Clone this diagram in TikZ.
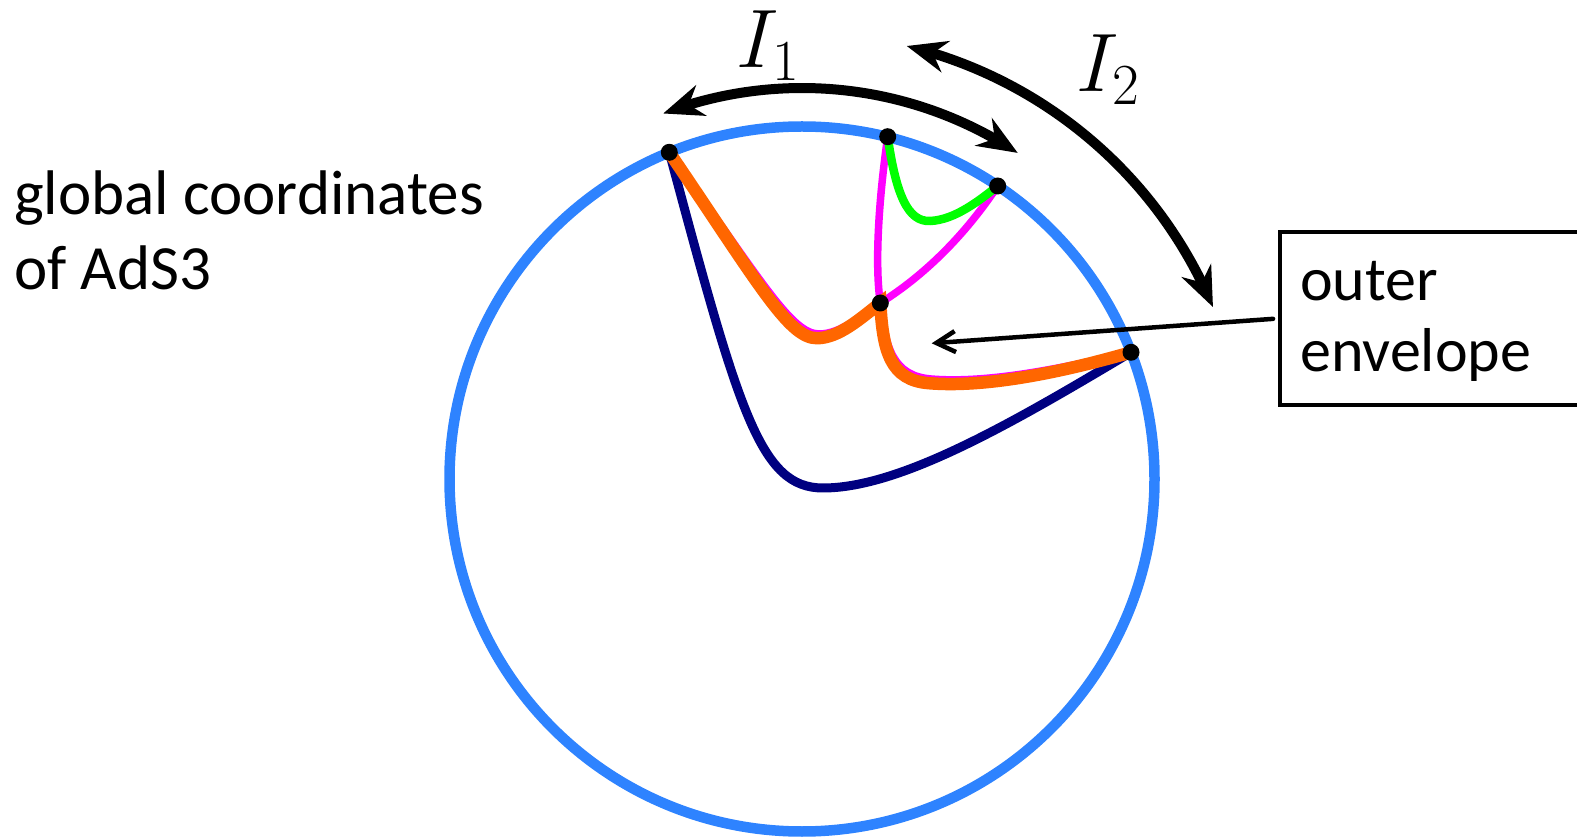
\RequirePackage{fix-cm}
\documentclass[tikz,border=0pt]{standalone}
\usepackage{fontspec}
\setmainfont{Carlito}
\usetikzlibrary{arrows.meta,bending,calc}
\definecolor{circblue}{RGB}{46,131,255}
\definecolor{navyc}{RGB}{0,0,128}
\definecolor{orangec}{RGB}{255,102,0}
\definecolor{magc}{RGB}{255,0,255}
\definecolor{greenc}{RGB}{0,255,0}
\begin{document}
\begin{tikzpicture}[x=1pt,y=1pt,
  circ/.style={draw=circblue, line width=10.5pt},
  navyline/.style={draw=navyc, line width=9pt},
  magline/.style={draw=magc, line width=7.5pt},
  orline/.style={draw=orangec, line width=12.5pt},
  grline/.style={draw=greenc, line width=8.5pt},
  dot/.style={circle, fill=black, inner sep=0pt, minimum size=17pt},
  bigarrow/.style={draw=black, line width=10pt, {Stealth[length=40pt,width=32pt,inset=13pt]}-{Stealth[length=40pt,width=32pt,inset=13pt]}},
  pointer/.style={draw=black, line width=4.5pt, line cap=round, shorten <=5pt, -{Straight Barb[length=19pt,width=21pt]}},
  lbl/.style={anchor=base west, inner sep=0pt}
]
\useasboundingbox (0,0) rectangle (1577,836);
\coordinate (C) at (802,357);
\draw[circ] (C) circle[radius=352.5];

\coordinate (p1) at (669.3,683.7);
\coordinate (p2) at (887.7,699.3);
\coordinate (p3) at (997.7,650);
\coordinate (p4) at (880.3,533);
\coordinate (p5) at (1131,483.7);

% navy geodesic
\draw[navyline] (p1) .. controls (739,424) and (760,348) .. (823,348)
  .. controls (900,348) and (1011,412) .. (p5);

% magenta geodesics
\begin{scope}[shift={(1.2,2)}]
\draw[magline] (p1) .. controls (760,554) and (790,500) .. (818,500)
  .. controls (840,500) and (862,520) .. (p4);
\draw[magline] (p4) .. controls (884,486) and (892,458) .. (930,455)
  .. controls (990,450) and (1070,468) .. (p5);
\end{scope}
\draw[magline] (p2) .. controls (880,646) and (874,576) .. (p4);
\draw[magline] (p3) .. controls (965,601) and (925,561) .. (p4);

% orange outer envelope
\begin{scope}[shift={(-1.2,-2.2)}]
\draw[orline] (p1) .. controls (760,554) and (790,500) .. (818,500)
  .. controls (840,500) and (862,520) .. (p4)
  .. controls (884,486) and (892,458) .. (930,455)
  .. controls (990,450) and (1070,468) .. (p5);
\end{scope}

% green geodesic
\draw[grline] (p2) .. controls (896,641) and (908,614) .. (930,615)
  .. controls (955,616) and (980,636) .. (p3);

% dots
\node[dot] (d1) at (p1) {};
\node[dot] (d2) at (p2) {};
\node[dot] (d3) at (p3) {};
\node[dot] (d4) at (p4) {};
\node[dot] (d5) at (p5) {};

% interval arrows
\coordinate (i1s) at ($(C)+(110.8:391)$);
\coordinate (i2s) at ($(C)+(76.4:445.5)$);
\draw[bigarrow] (i1s) arc[start angle=110.8, end angle=56.5, radius=391];
\draw[bigarrow] (i2s) arc[start angle=76.4, end angle=22.7, radius=445.5];

\node[lbl, font=\fontsize{83}{96}\selectfont] (lab1) at (736,768.3) {$I_1$};
\node[lbl, font=\fontsize{83}{96}\selectfont] (lab2) at (1076,744.3) {$I_2$};

\node[lbl, align=left, font=\fontsize{63}{75}\selectfont] (glob) at (14,546) {global coordinates\\of AdS3};

\node[draw, line width=4pt, anchor=north west, minimum width=340pt, minimum height=173pt, inner sep=0pt] (box) at (1278,606) {};
\node[lbl, align=left, font=\fontsize{62}{71}\selectfont] (env) at (1300,464.3) {outer\\envelope};
\coordinate (ptip) at (931.7,492.7);
\draw[pointer] (box.west) -- (ptip);
\end{tikzpicture}
\end{document}
